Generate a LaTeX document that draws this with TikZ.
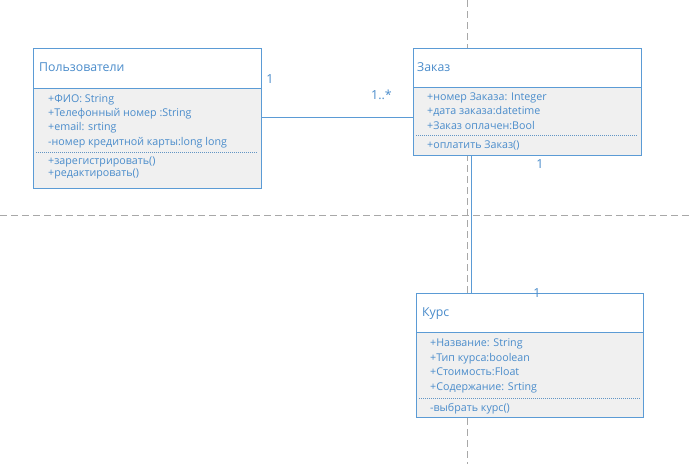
\documentclass[tikz,border=0pt]{standalone}
\usepackage{fontspec}
\setmainfont{Open Sans}
\definecolor{umlblue}{HTML}{5B9BD5}
\definecolor{umltext}{HTML}{4A8CCB}
\definecolor{bodyfill}{HTML}{F0F0F0}
\definecolor{guide}{HTML}{A8A8A8}
\tikzset{
  guideline/.style={draw=guide, line width=1pt, dash pattern=on 7pt off 4pt},
  headbox/.style={draw=umlblue, fill=white, line width=0.9pt, inner sep=0pt, anchor=north west},
  bodybox/.style={draw=umlblue, fill=bodyfill, line width=0.9pt, inner sep=0pt, anchor=north west},
  sepline/.style={draw=umlblue!80!gray, line width=0.6pt, dash pattern=on 1pt off 1pt},
  title/.style={anchor=base west, inner sep=0pt, text=umltext, font=\fontsize{12.3}{15}\selectfont},
  member/.style={anchor=base west, inner sep=0pt, text=umltext, font=\fontsize{10.7}{12}\selectfont},
  assoc/.style={draw=umlblue, line width=0.9pt},
  mult/.style={anchor=base, inner sep=0pt, text=umltext, font=\fontsize{12.5}{14}\selectfont}
}
\begin{document}
\begin{tikzpicture}[x=1pt, y=-1pt]
\useasboundingbox (0,0) rectangle (689,464);
\fill[white] (0,0) rectangle (689,464);

% dashed guide lines behind the diagram
\coordinate (gvt) at (467,0);
\coordinate (gvb) at (467,464);
\coordinate (ghl) at (0,215);
\coordinate (ghr) at (689,215);
\draw[guideline] (gvt) -- (gvb);
\draw[guideline] (ghl) -- (ghr);

% class: Пользователи
\node[headbox, minimum width=228pt, minimum height=40pt] (userH) at (33,48) {};
\node[bodybox, minimum width=228pt, minimum height=100pt] (userB) at (33,88) {};
\node[title] (userT) at (39,71.7) {Пользователи};
\foreach \y/\t [count=\i] in {102/+ФИО: String, 116.7/+Телефонный номер :String,
    130.5/+email: srting, 145/-номер кредитной карты:long long}
  \node[member] (userA\i) at (48,\y) {\t};
\coordinate (userS1) at (36,152);
\coordinate (userS2) at (258,152);
\draw[sepline] (userS1) -- (userS2);
\foreach \y/\t [count=\i] in {164/+зарегистрировать(), 176/+редактировать()}
  \node[member] (userM\i) at (48,\y) {\t};

% class: Заказ
\node[headbox, minimum width=228pt, minimum height=39pt] (orderH) at (413,48) {};
\node[bodybox, minimum width=228pt, minimum height=68pt] (orderB) at (413,87) {};
\node[title] (orderT) at (417,71.5) {Заказ};
\foreach \y/\t [count=\i] in {100.5/+номер Заказа: Integer, 114.7/+дата заказа:datetime,
    129/+Заказ оплачен:Bool}
  \node[member] (orderA\i) at (427,\y) {\t};
\coordinate (orderS1) at (416,135);
\coordinate (orderS2) at (637,135);
\draw[sepline] (orderS1) -- (orderS2);
\node[member] (orderM1) at (427,148.5) {+оплатить Заказ()};

% class: Курс
\node[headbox, minimum width=227pt, minimum height=39pt] (courseH) at (416,293) {};
\node[bodybox, minimum width=227pt, minimum height=85pt] (courseB) at (416,332) {};
\node[title] (courseT) at (422,316.5) {Курс};
\foreach \y/\t [count=\i] in {346.7/+Название: String, 361/+Тип курса:boolean,
    375.7/+Стоимость:Float, 390/+Содержание: Srting}
  \node[member] (courseA\i) at (430,\y) {\t};
\coordinate (courseS1) at (419,398);
\coordinate (courseS2) at (640,398);
\draw[sepline] (courseS1) -- (courseS2);
\node[member] (courseM1) at (430,411) {-выбрать курс()};

% associations
\coordinate (lineY) at (0,117.5);
\coordinate (lineX) at (471,0);
\draw[assoc] (userB.east |- lineY) -- (orderB.west |- lineY);
\draw[assoc] (orderB.south -| lineX) -- (courseH.north -| lineX);

% multiplicities
\node[mult] (m1) at (270,83) {1};
\node[mult] (m2) at (381.5,99) {1..*};
\node[mult] (m3) at (540,168.5) {1};
\node[mult] (m4) at (537,297) {1};
\end{tikzpicture}
\end{document}
